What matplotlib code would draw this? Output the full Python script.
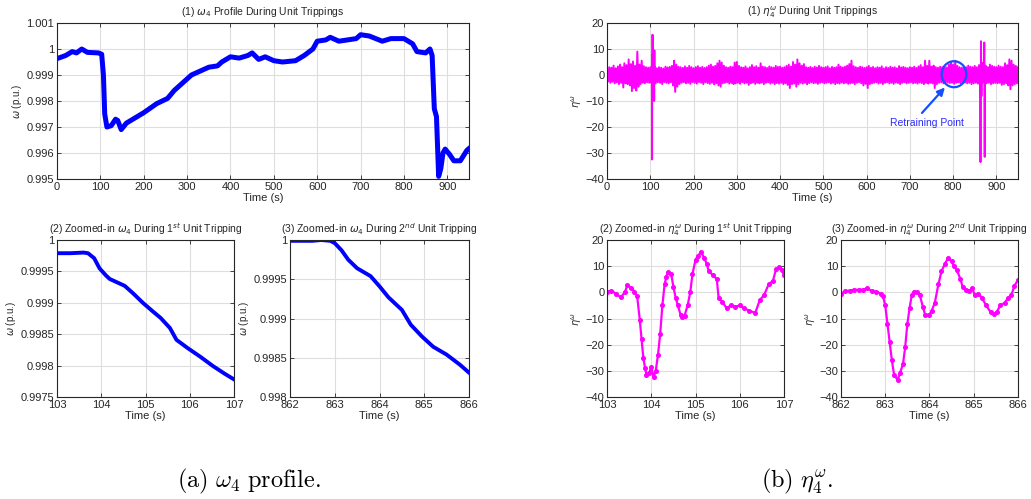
import numpy as np
import matplotlib
matplotlib.use("Agg")
import matplotlib.pyplot as plt
from matplotlib.patches import Ellipse

plt.rcParams["font.family"] = ["Liberation Sans", "DejaVu Sans"]
plt.rcParams["mathtext.fontset"] = "dejavusans"

# ---- (a) omega_4 profile, full run ----
w_t = [0, 20, 35, 45, 57, 70, 95, 103, 107, 110, 115, 125, 135, 140, 148, 160, 180,
       200, 230, 255, 270, 290, 310, 330, 350, 370, 380, 400, 420, 440, 450, 465,
       480, 500, 520, 550, 570, 590, 600, 620, 630, 650, 690, 700, 720, 750, 770,
       800, 820, 830, 850, 860, 865, 870, 875, 880, 885, 890, 895, 905, 915, 930,
       945, 952]
w_v = [0.99963, 0.99975, 0.99990, 0.99985, 1.00000, 0.99987, 0.99985, 0.99980,
       0.99900, 0.99750, 0.99700, 0.99705, 0.99730, 0.99725, 0.99690, 0.99715,
       0.99735, 0.99755, 0.99790, 0.99810, 0.99840, 0.99870, 0.99900, 0.99915,
       0.99930, 0.99935, 0.99950, 0.99970, 0.99965, 0.99975, 0.99985, 0.99960,
       0.99970, 0.99955, 0.99950, 0.99955, 0.99975, 1.00000, 1.00030, 1.00035,
       1.00045, 1.00030, 1.00040, 1.00055, 1.00050, 1.00030, 1.00040, 1.00040,
       1.00020, 0.99990, 0.99985, 1.00000, 0.99975, 0.99770, 0.99740, 0.99510,
       0.99540, 0.99600, 0.99615, 0.99595, 0.99570, 0.99570, 0.99610, 0.99620]

# zoomed omega, 1st tripping
w1_t = [103.0, 103.3, 103.6, 103.7, 103.84, 103.96, 104.1, 104.19, 104.53, 104.72,
        104.94, 105.17, 105.34, 105.55, 105.70, 105.95, 106.22, 106.53, 106.79, 107.0]
w1_v = [0.99979, 0.99979, 0.99980, 0.99979, 0.99971, 0.99955, 0.99944, 0.99938,
        0.99927, 0.99915, 0.99900, 0.99886, 0.99876, 0.99860, 0.99841, 0.99828,
        0.99815, 0.99799, 0.99787, 0.99778]

# zoomed omega, 2nd tripping
w2_t = [862.0, 862.5, 862.7, 862.9, 863.0, 863.15, 863.3, 863.5, 863.8, 864.0,
        864.2, 864.5, 864.7, 864.95, 865.2, 865.5, 865.8, 866.0]
w2_v = [0.99999, 0.99999, 1.00000, 0.99999, 0.99996, 0.99987, 0.99975, 0.99964,
        0.99954, 0.99941, 0.99927, 0.99911, 0.99892, 0.99877, 0.99864, 0.99854,
        0.99841, 0.99831]

# ---- (b) eta, full run: noise envelope every 5 s (upper / lower peaks) ----
env_t = np.arange(0, 955, 5)
eta_up = [2.5, 3.0, 2.8, 3.6, 2.6, 3.3, 4.0, 3.0, 4.5, 3.8,
          6.0, 4.2, 5.2, 3.5, 9.0, 4.0, 5.5, 3.4, 3.0, 2.8,
          3.0, 3.5, 3.2, 2.6, 3.0, 2.8, 2.5, 3.2, 2.9, 3.1,
          3.5, 5.5, 4.0, 3.2, 3.0, 2.7, 3.3, 2.8, 3.5, 3.0,
          2.6, 3.0, 3.4, 2.8, 3.1, 2.7, 3.0, 3.6, 4.0, 3.2,
          3.5, 4.5, 5.5, 4.8, 3.6, 3.0, 2.8, 3.2, 3.0, 4.8,
          5.0, 3.5, 3.0, 2.8, 3.3, 2.6, 3.0, 3.8, 3.0, 3.4,
          2.8, 4.5, 3.2, 3.0, 2.7, 3.3, 3.0, 2.8, 3.5, 3.1,
          3.2, 2.8, 3.0, 3.5, 4.0, 3.2, 5.0, 4.0, 6.0, 4.5,
          3.6, 4.2, 3.0, 2.8, 3.1, 2.7, 3.2, 2.9, 3.5, 3.0,
          2.8, 3.0, 3.3, 2.6, 3.1, 2.8, 3.0, 4.0, 3.2, 2.9,
          3.2, 3.6, 4.2, 5.5, 3.4, 3.0, 2.8, 3.2, 3.0, 2.7,
          3.0, 3.5, 2.8, 3.1, 2.6, 3.0, 2.8, 3.3, 2.5, 3.0,
          2.7, 3.2, 2.8, 3.0, 2.6, 3.4, 2.9, 3.1, 2.8, 2.6,
          3.0, 2.8, 3.2, 2.7, 3.3, 3.8, 3.0, 5.5, 3.5, 5.5,
          3.2, 3.6, 3.0, 2.8, 3.2, 3.0, 3.4, 2.9, 4.0, 5.0,
          4.0, 5.5, 3.5, 3.0, 2.8, 3.2, 3.0, 3.6, 3.2, 3.0,
          3.5, 3.0, 3.8, 3.2, 3.4, 3.6, 3.0, 4.0, 3.5, 3.2,
          3.0, 3.6, 3.2, 3.0, 4.5, 3.8, 6.0, 5.5, 4.0, 3.5,
          3.0]
eta_lo = [-2.5, -3.0, -2.6, -3.2, -2.8, -3.5, -3.0, -4.8, -3.2, -3.5,
          -4.0, -6.2, -5.0, -6.0, -4.5, -3.5, -3.0, -3.2, -2.8, -3.0,
          -3.0, -4.0, -3.2, -2.8, -3.0, -3.5, -2.7, -3.0, -3.2, -2.8,
          -4.0, -6.5, -4.5, -3.5, -3.0, -2.8, -3.2, -3.0, -3.4, -2.7,
          -3.0, -3.3, -2.7, -3.0, -3.5, -2.8, -3.1, -3.4, -3.0, -3.6,
          -3.2, -4.0, -4.5, -3.2, -3.0, -2.8, -3.3, -3.0, -3.5, -3.2,
          -3.0, -3.4, -2.8, -3.2, -3.0, -3.8, -3.2, -2.9, -3.4, -3.0,
          -3.2, -2.9, -3.5, -3.0, -2.8, -3.3, -3.0, -3.5, -3.1, -3.3,
          -3.0, -3.5, -3.2, -3.8, -5.0, -3.5, -3.3, -4.5, -3.5, -3.0,
          -3.3, -3.0, -3.6, -3.1, -2.8, -3.2, -3.0, -3.4, -3.0, -2.8,
          -3.2, -3.0, -2.8, -3.3, -3.0, -3.5, -3.1, -3.3, -2.9, -3.2,
          -3.0, -3.4, -3.2, -3.0, -3.5, -3.0, -2.8, -3.2, -4.0, -3.4,
          -5.0, -3.5, -3.2, -3.0, -2.8, -3.3, -3.0, -3.5, -3.0, -2.8,
          -3.2, -3.0, -3.4, -2.9, -3.1, -3.5, -3.0, -2.8, -3.2, -3.0,
          -2.8, -3.2, -3.0, -3.3, -2.9, -3.1, -3.5, -3.0, -3.3, -3.0,
          -3.2, -5.0, -3.5, -3.0, -2.8, -3.2, -3.0, -2.9, -3.1, -3.0,
          -3.4, -3.0, -2.8, -3.2, -3.0, -2.9, -3.2, -3.0, -3.5, -3.2,
          -3.0, -3.3, -3.5, -3.0, -3.8, -3.2, -3.0, -3.5, -3.2, -3.0,
          -3.2, -3.0, -3.8, -3.5, -3.2, -4.0, -5.5, -4.0, -3.5, -3.2,
          -3.0]

# extra short spikes seen in the full eta trace
spk_t = [108.4, 108.9, 109.4, 109.9, 871.5, 872.0, 872.5, 873.0, 873.5, 874.0]
spk_v = [2.0, -10.0, 9.5, -1.0, 2.0, 12.5, -5.0, -31.5, 3.0, 1.0]

# zoomed eta, 1st tripping
e1_t = [103.0, 103.1, 103.2, 103.31, 103.4, 103.46, 103.55, 103.62, 103.68, 103.74,
        103.78, 103.82, 103.86, 103.89, 103.95, 104.0, 104.05, 104.1, 104.15, 104.2,
        104.25, 104.3, 104.34, 104.38, 104.45, 104.5, 104.55, 104.6, 104.66, 104.7,
        104.75, 104.82, 104.88, 104.93, 105.0, 105.06, 105.12, 105.2, 105.25, 105.3,
        105.4, 105.48, 105.52, 105.6, 105.7, 105.8, 105.9, 106.0, 106.1, 106.2,
        106.35, 106.45, 106.55, 106.65, 106.75, 106.82, 106.88, 106.95, 107.0]
e1_v = [0.3, 0.6, -0.5, -1.9, 0.0, 2.7, 1.8, 0.2, -1.5, -10.5,
        -18.0, -25.0, -29.0, -31.4, -31.0, -28.5, -32.5, -30.0, -24.0, -16.0,
        -5.0, 3.0, 6.0, 7.8, 7.0, 2.0, -2.0, -5.0, -8.5, -9.5,
        -9.0, -5.0, 0.0, 7.0, 12.5, 14.0, 15.5, 13.0, 11.0, 8.0,
        6.5, 5.0, -2.0, -3.5, -6.0, -5.0, -5.5, -5.0, -6.0, -7.0,
        -7.8, -3.0, -1.0, 3.0, 4.5, 9.0, 9.5, 8.5, 6.5]

# zoomed eta, 2nd tripping
e2_t = [862.0, 862.1, 862.2, 862.3, 862.4, 862.5, 862.59, 862.7, 862.8, 862.9,
        862.95, 863.0, 863.05, 863.1, 863.15, 863.2, 863.28, 863.33, 863.4, 863.45,
        863.5, 863.55, 863.6, 863.65, 863.72, 863.78, 863.85, 863.9, 864.0, 864.05,
        864.12, 864.2, 864.27, 864.35, 864.42, 864.5, 864.55, 864.62, 864.7, 864.75,
        864.82, 864.9, 864.97, 865.02, 865.1, 865.18, 865.28, 865.38, 865.45, 865.52,
        865.6, 865.7, 865.78, 865.85, 865.92, 866.0]
e2_v = [-0.5, 0.5, 0.7, 1.0, 1.0, 1.0, 1.5, 0.5, 0.2, -0.5,
        -1.5, -5.0, -12.0, -19.0, -26.0, -31.5, -33.5, -31.0, -27.5, -21.0,
        -12.0, -6.0, -1.0, 0.3, 0.0, -1.0, -5.5, -8.5, -8.5, -7.0,
        -4.0, 3.0, 8.0, 11.0, 13.0, 12.0, 10.0, 8.5, 5.0, 2.0,
        0.8, 0.5, 1.5, -1.0, -0.5, -2.0, -5.0, -7.5, -8.2, -7.5,
        -5.0, -4.0, -2.0, -1.0, 2.5, 4.8]

# build the full eta trace: noise zig-zag (upper at t, lower at t+2.5) + events
noise_t = np.ravel(np.column_stack([env_t, env_t + 2.5]))[:-1]
noise_v = np.ravel(np.column_stack([eta_up, eta_lo]))[:-1]
full_t = np.concatenate([noise_t, e1_t, spk_t, e2_t])
full_v = np.concatenate([noise_v, e1_v, spk_v, e2_v])
order = np.argsort(full_t, kind="stable")
full_t, full_v = full_t[order], full_v[order]

BLUE = "#0000ff"
MAG = "#ff00ff"
EDGE = "#262626"


def matlab_axes(ax):
    ax.grid(True, color="#dedede", linewidth=0.8)
    ax.set_axisbelow(True)
    for s in ax.spines.values():
        s.set_color(EDGE)
        s.set_linewidth(0.8)
    ax.tick_params(direction="in", length=3, width=0.6, colors=EDGE,
                   labelsize=8, pad=2, top=True, right=True)


fig = plt.figure(figsize=(10.31, 4.99), dpi=100)

ax1 = fig.add_axes([0.0553, 0.6413, 0.3996, 0.3126])
ax1.plot(w_t, w_v, color=BLUE, linewidth=3.6)
ax1.set_xlim(0, 950)
ax1.set_ylim(0.995, 1.001)
ax1.set_xticks(range(0, 901, 100))
ax1.set_yticks([0.995, 0.996, 0.997, 0.998, 0.999, 1.0, 1.001])
ax1.set_yticklabels(["0.995", "0.996", "0.997", "0.998", "0.999", "1", "1.001"])
ax1.set_xlabel("Time (s)", fontsize=8, labelpad=1, color=EDGE)
ax1.set_ylabel(r"$\omega$ (p.u.)", fontsize=7, labelpad=2, color=EDGE)
ax1.set_title(r"(1) $\omega_4$ Profile During Unit Trippings", fontsize=7.5, pad=6, color=EDGE)
matlab_axes(ax1)

ax2 = fig.add_axes([0.5888, 0.6413, 0.3986, 0.3126])
ax2.plot(full_t, full_v, color=MAG, linewidth=1.4)
ax2.set_xlim(0, 950)
ax2.set_ylim(-40, 20)
ax2.set_xticks(range(0, 901, 100))
ax2.set_yticks(range(-40, 21, 10))
ax2.set_xlabel("Time (s)", fontsize=8, labelpad=1, color=EDGE)
ax2.set_ylabel(r"$\eta^{\omega}$", fontsize=7, labelpad=1, color=EDGE)
ax2.set_title(r"(1) $\eta_4^{\omega}$ During Unit Trippings", fontsize=7.5, pad=6, color=EDGE)
ax2.add_patch(Ellipse((802, 0.3), 57, 10.0, fill=False, edgecolor="#1450ff", linewidth=1.6, zorder=5))
ax2.annotate("", xy=(781, -4.8), xytext=(728, -14.6),
             arrowprops=dict(arrowstyle="-|>", color="#1450ff", lw=1.6,
                             mutation_scale=11, shrinkA=0, shrinkB=0))
ax2.text(739, -18.3, "Retraining Point", ha="center", va="center",
         fontsize=7.5, color="#2a2aff")
matlab_axes(ax2)

ax3 = fig.add_axes([0.0553, 0.2044, 0.1717, 0.3146])
ax3.plot(w1_t, w1_v, color=BLUE, linewidth=2.8)
ax3.set_xlim(103, 107)
ax3.set_ylim(0.9975, 1.0)
ax3.set_xticks([103, 104, 105, 106, 107])
ax3.set_yticks([0.9975, 0.998, 0.9985, 0.999, 0.9995, 1.0])
ax3.set_yticklabels(["0.9975", "0.998", "0.9985", "0.999", "0.9995", "1"])
ax3.set_xlabel("Time (s)", fontsize=8, labelpad=1, color=EDGE)
ax3.set_ylabel(r"$\omega$ (p.u.)", fontsize=7, labelpad=2, color=EDGE)
ax3.set_title(r"(2) Zoomed-in $\omega_4$ During 1$^{st}$ Unit Tripping", fontsize=7.5, pad=5, color=EDGE)
matlab_axes(ax3)

ax4 = fig.add_axes([0.2813, 0.2044, 0.1736, 0.3146])
ax4.plot(w2_t, w2_v, color=BLUE, linewidth=2.8)
ax4.set_xlim(862, 866)
ax4.set_ylim(0.998, 1.0)
ax4.set_xticks([862, 863, 864, 865, 866])
ax4.set_yticks([0.998, 0.9985, 0.999, 0.9995, 1.0])
ax4.set_yticklabels(["0.998", "0.9985", "0.999", "0.9995", "1"])
ax4.set_xlabel("Time (s)", fontsize=8, labelpad=1, color=EDGE)
ax4.set_ylabel(r"$\omega$ (p.u.)", fontsize=7, labelpad=2, color=EDGE)
ax4.set_title(r"(3) Zoomed-in $\omega_4$ During 2$^{nd}$ Unit Tripping", fontsize=7.5, pad=5, color=EDGE)
matlab_axes(ax4)

ax5 = fig.add_axes([0.5888, 0.2044, 0.1717, 0.3146])
ax5.plot(e1_t, e1_v, color=MAG, linewidth=1.6, marker="o", markersize=2.6)
ax5.set_xlim(103, 107)
ax5.set_ylim(-40, 20)
ax5.set_xticks([103, 104, 105, 106, 107])
ax5.set_yticks(range(-40, 21, 10))
ax5.set_xlabel("Time (s)", fontsize=8, labelpad=1, color=EDGE)
ax5.set_ylabel(r"$\eta^{\omega}$", fontsize=7, labelpad=1, color=EDGE)
ax5.set_title(r"(2) Zoomed-in $\eta_4^{\omega}$ During 1$^{st}$ Unit Tripping", fontsize=7.5, pad=5, color=EDGE)
matlab_axes(ax5)

ax6 = fig.add_axes([0.8157, 0.2044, 0.1717, 0.3146])
ax6.plot(e2_t, e2_v, color=MAG, linewidth=1.6, marker="o", markersize=2.6)
ax6.set_xlim(862, 866)
ax6.set_ylim(-40, 20)
ax6.set_xticks([862, 863, 864, 865, 866])
ax6.set_yticks(range(-40, 21, 10))
ax6.set_xlabel("Time (s)", fontsize=8, labelpad=1, color=EDGE)
ax6.set_ylabel(r"$\eta^{\omega}$", fontsize=7, labelpad=1, color=EDGE)
ax6.set_title(r"(3) Zoomed-in $\eta_4^{\omega}$ During 2$^{nd}$ Unit Tripping", fontsize=7.5, pad=5, color=EDGE)
matlab_axes(ax6)

# sub-figure captions (Computer Modern, like the LaTeX document)
fig.text(0.2415, 0.036, r"$\mathrm{(a)}\ \omega_4\ \mathrm{profile.}$", ha="center", va="center",
         fontsize=17.5, math_fontfamily="cm")
fig.text(0.773, 0.036, r"$\mathrm{(b)}\ \eta_4^{\omega}.$", ha="center", va="center",
         fontsize=17.5, math_fontfamily="cm")

fig.savefig("out.png", dpi=100)
